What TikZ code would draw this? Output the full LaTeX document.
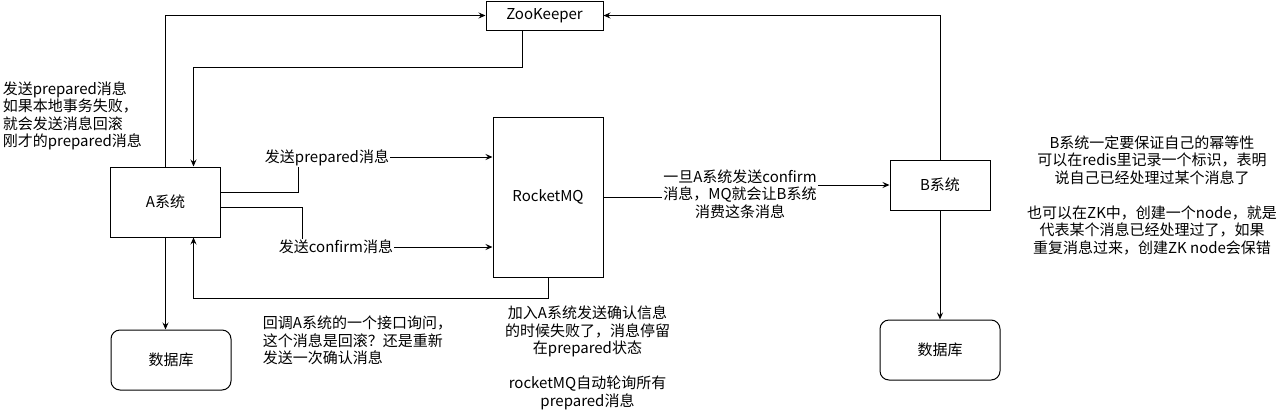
\documentclass[tikz,border=0pt]{standalone}
\usepackage{fontspec}
\setmainfont{Noto Sans CJK SC}
\usetikzlibrary{arrows.meta}
\tikzset{
  box/.style = {draw,line width=1pt,inner sep=0pt,font=\fontsize{15}{17.5}\selectfont},
  dbbox/.style = {box,rounded corners=9pt,minimum width=120pt,minimum height=60pt},
  note/.style = {inner sep=0pt,font=\fontsize{15}{17.5}\selectfont},
  lbl/.style = {note,fill=white,inner sep=1pt},
  link/.style = {line width=1pt}
}
\tikzset{>={Stealth[length=7pt,width=6pt,inset=2.5pt]}}

\begin{document}
\begin{tikzpicture}[x=1pt,y=-1pt]
  \useasboundingbox (0,0) rectangle (1284,410);
  % boxes
  \node[box,minimum width=117pt,minimum height=29pt] (zk) at (544.5,15.5) {ZooKeeper};
  \node[box,minimum width=110pt,minimum height=70pt] (asys) at (165.5,202) {A系统};
  \node[box,minimum width=110pt,minimum height=160pt] (rmq) at (548,197) {RocketMQ};
  \node[box,minimum width=100pt,minimum height=50pt] (bsys) at (940,185) {B系统};
  \node[dbbox] (dba) at (171,360) {数据库};
  \node[dbbox] (dbb) at (940,350) {数据库};
  % links
  \draw[link,->] (asys.north) |- (zk.west);
  \draw[link,->] ([xshift=-22pt]zk.south) -- ++(0,37) -| ([xshift=28pt]asys.north);
  \draw[link,->] (bsys.north) |- (zk.east);
  \draw[link,->] ([yshift=10pt]asys.east) -- ++(77,0) |- ([yshift=40pt]rmq.west);
  \draw[link,->] ([yshift=-5pt]asys.east) -- ++(81,0) |- ([yshift=-50pt]rmq.west);
  \draw[link,->] (rmq.south) -- ++(0,20.5) -| ([xshift=28pt]asys.south);
  \draw[link,->] (asys.south) -- (asys.south |- dba.north);
  \draw[link,->] (rmq.east) -- ++(137,0) |- (bsys.west);
  \draw[link,->] (bsys.south) -- (dbb.north);
  % labels on links
  \node[lbl] (lprep) at (327,157.5) {发送prepared消息};
  \node[lbl] (lconf) at (336,247) {发送confirm消息};
  \node[lbl,align=center] (lmq) at (740,194) {一旦A系统发送confirm\\消息，MQ就会让B系统\\消费这条消息};
  % notes
  \node[note,align=left,anchor=west] (nprep) at (2.7,116) {发送prepared消息\\如果本地事务失败，\\就会发送消息回滚\\刚才的prepared消息};
  \node[note,align=left,anchor=west] (ncall) at (262.7,340.5) {回调A系统的一个接口询问，\\这个消息是回滚？还是重新\\发送一次确认消息};
  \node[note,align=center] (nfail) at (587.5,358) {加入A系统发送确认信息\\的时候失败了，消息停留\\在prepared状态\\[17.5pt]rocketMQ自动轮询所有\\prepared消息};
  \node[note,align=center] (nidem) at (1152,195) {B系统一定要保证自己的幂等性\\可以在redis里记录一个标识，表明\\说自己已经处理过某个消息了\\[17.5pt]也可以在ZK中，创建一个node，就是\\代表某个消息已经处理过了，如果\\重复消息过来，创建ZK node会保错};
\end{tikzpicture}
\end{document}
